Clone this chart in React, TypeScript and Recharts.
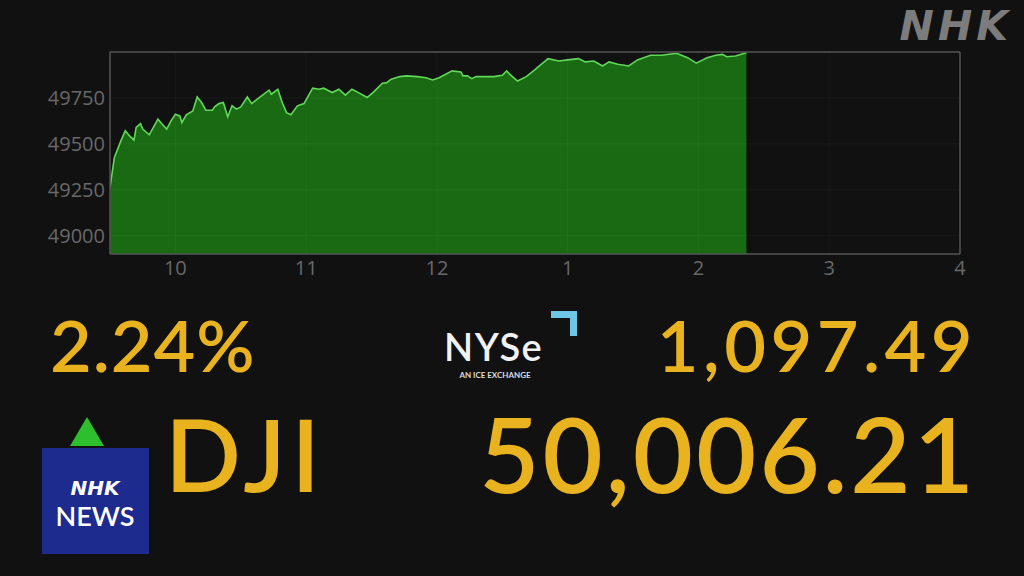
import React from 'react';
import { AreaChart, Area, XAxis, YAxis, ReferenceLine } from 'recharts';

// minutes since 9:30
const minutes = [0, 2, 5, 7, 9, 11, 12, 14, 15, 18, 22, 24, 26, 28, 30, 32, 33, 35, 38, 40, 42, 44, 47, 48, 50, 52, 54, 56, 58, 60, 63, 65, 68, 73, 74, 77, 79, 81, 83, 86, 89, 93, 96, 98, 99, 102, 105, 108, 111, 114, 118, 121, 125, 127, 129, 133, 136, 141, 145, 148, 151, 157, 161, 162, 164, 166, 168, 176, 180, 182, 184, 187, 191, 195, 197, 201, 206, 210, 215, 218, 222, 226, 229, 233, 238, 242, 248, 253, 260, 265, 269, 274, 278, 281, 283, 287, 292];
const djiValues = [49262, 49426, 49516, 49571, 49543, 49520, 49589, 49610, 49580, 49549, 49634, 49607, 49580, 49625, 49661, 49652, 49616, 49658, 49679, 49755, 49725, 49683, 49683, 49701, 49719, 49725, 49647, 49707, 49689, 49701, 49755, 49719, 49748, 49792, 49770, 49797, 49725, 49670, 49658, 49707, 49719, 49803, 49797, 49803, 49797, 49779, 49797, 49765, 49797, 49779, 49752, 49783, 49830, 49833, 49852, 49866, 49870, 49866, 49860, 49848, 49860, 49897, 49891, 49870, 49870, 49855, 49866, 49866, 49873, 49897, 49873, 49842, 49866, 49904, 49924, 49964, 49951, 49957, 49964, 49946, 49951, 49924, 49946, 49933, 49924, 49957, 49982, 49982, 49993, 49969, 49939, 49969, 49982, 49987, 49974, 49978, 49996];

const xTicks = [30, 90, 150, 210, 270, 330, 390];
const xTickLabels = ['10', '11', '12', '1', '2', '3', '4'];
const yTicks = [49000, 49250, 49500, 49750];
const xDomain = [0, 390];
const yDomain = [48900, 50000];

const changePct = '2.24%';
const changePts = '1,097.49';
const indexName = 'DJI';
const indexValue = '50,006.21';

const data = minutes.map((m, i) => ({ t: m, v: djiValues[i] }));

const GOLD = '#e9b21f';
const AXIS = '#555555';
const TICK = '#686868';
const BIG = 'Lato';

export default function App() {
  return (
    <div style={{ position: 'absolute', left: 0, top: 0, width: 1024, height: 576, background: '#111111', overflow: 'hidden', fontFamily: 'Open Sans' }}>
      <div style={{ position: 'absolute', left: 0, top: 0 }}>
        <AreaChart width={1024} height={290} data={data} margin={{ top: 52, right: 64, bottom: 0, left: 50 }}>
          <XAxis
            dataKey="t"
            type="number"
            domain={xDomain}
            ticks={xTicks}
            tickFormatter={(v: number) => xTickLabels[xTicks.indexOf(v)] ?? ''}
            height={36}
            tickLine={false}
            tickSize={0}
            tickMargin={7}
            axisLine={{ stroke: AXIS, strokeWidth: 1.5 }}
            tick={{ fill: TICK, fontSize: 20, fontFamily: 'Open Sans' }}
            allowDataOverflow
          />
          <YAxis
            type="number"
            domain={yDomain}
            ticks={yTicks}
            width={60}
            tickLine={false}
            tickSize={0}
            tickMargin={5}
            axisLine={{ stroke: AXIS, strokeWidth: 1.5 }}
            tick={{ fill: TICK, fontSize: 20, fontFamily: 'Open Sans' }}
            allowDataOverflow
          />
          <Area
            type="linear"
            dataKey="v"
            stroke="#62d85a"
            strokeWidth={1.6}
            fill="#1a6a14"
            fillOpacity={1}
            isAnimationActive={false}
            dot={false}
            activeDot={false}
          />
          {yTicks.map((y) => (
            <ReferenceLine key={'gy' + y} y={y} stroke="rgba(255,255,255,0.04)" strokeWidth={1} />
          ))}
          {xTicks.slice(0, -1).map((x) => (
            <ReferenceLine key={'gx' + x} x={x} stroke="rgba(255,255,255,0.035)" strokeWidth={1} />
          ))}
          <ReferenceLine y={yDomain[1]} stroke={AXIS} strokeWidth={1.5} />
          <ReferenceLine x={xDomain[1]} stroke={AXIS} strokeWidth={1.5} />
        </AreaChart>
      </div>
      <svg width={1024} height={576} style={{ position: 'absolute', left: 0, top: 0 }}>
        {/* NHK logo top right */}
        <text x={1012} y={40} textAnchor="end" fill="#7c7c7c" fontFamily="DejaVu Sans" fontWeight={700} fontStyle="italic" fontSize={41} letterSpacing={4}>NHK</text>

        <text x={50} y={372} fill={GOLD} fontFamily={BIG} fontWeight={600} fontSize={72} letterSpacing={1}>{changePct}</text>
        <text x={977} y={372} textAnchor="end" fill={GOLD} fontFamily={BIG} fontWeight={600} fontSize={72} letterSpacing={4.5}>{changePts}</text>

        {/* NYSE logo */}
        <text x={444} y={361} fill="#f2f2f2" fontFamily={BIG} fontWeight={600} fontSize={38} letterSpacing={1.5}>NYSe</text>
        <polygon points="551,311 577,311 577,336 570,336 570,318 551,318" fill="#6cc6e4" />
        <text x={495} y={378} textAnchor="middle" fill="#dddddd" fontFamily={BIG} fontWeight={700} fontSize={8}>AN ICE EXCHANGE</text>

        <text x={165} y={492} fill={GOLD} fontFamily={BIG} fontWeight={600} fontSize={100} letterSpacing={5.5}>{indexName}</text>
        <text x={977} y={493} textAnchor="end" fill={GOLD} fontFamily={BIG} fontWeight={600} fontSize={104} letterSpacing={3}>{indexValue}</text>

        {/* up triangle */}
        <polygon points="87,417 104,446 70,446" fill="#2dbf2d" />
        {/* NHK NEWS box */}
        <rect x={42} y={448} width={107} height={106} fill="#1d2b8e" />
        <text x={95} y={495} textAnchor="middle" fill="#ffffff" fontFamily="DejaVu Sans" fontWeight={700} fontStyle="italic" fontSize={20}>NHK</text>
        <text x={95} y={526} textAnchor="middle" fill="#ffffff" fontFamily={BIG} fontWeight={600} fontSize={27}>NEWS</text>
      </svg>
    </div>
  );
}
